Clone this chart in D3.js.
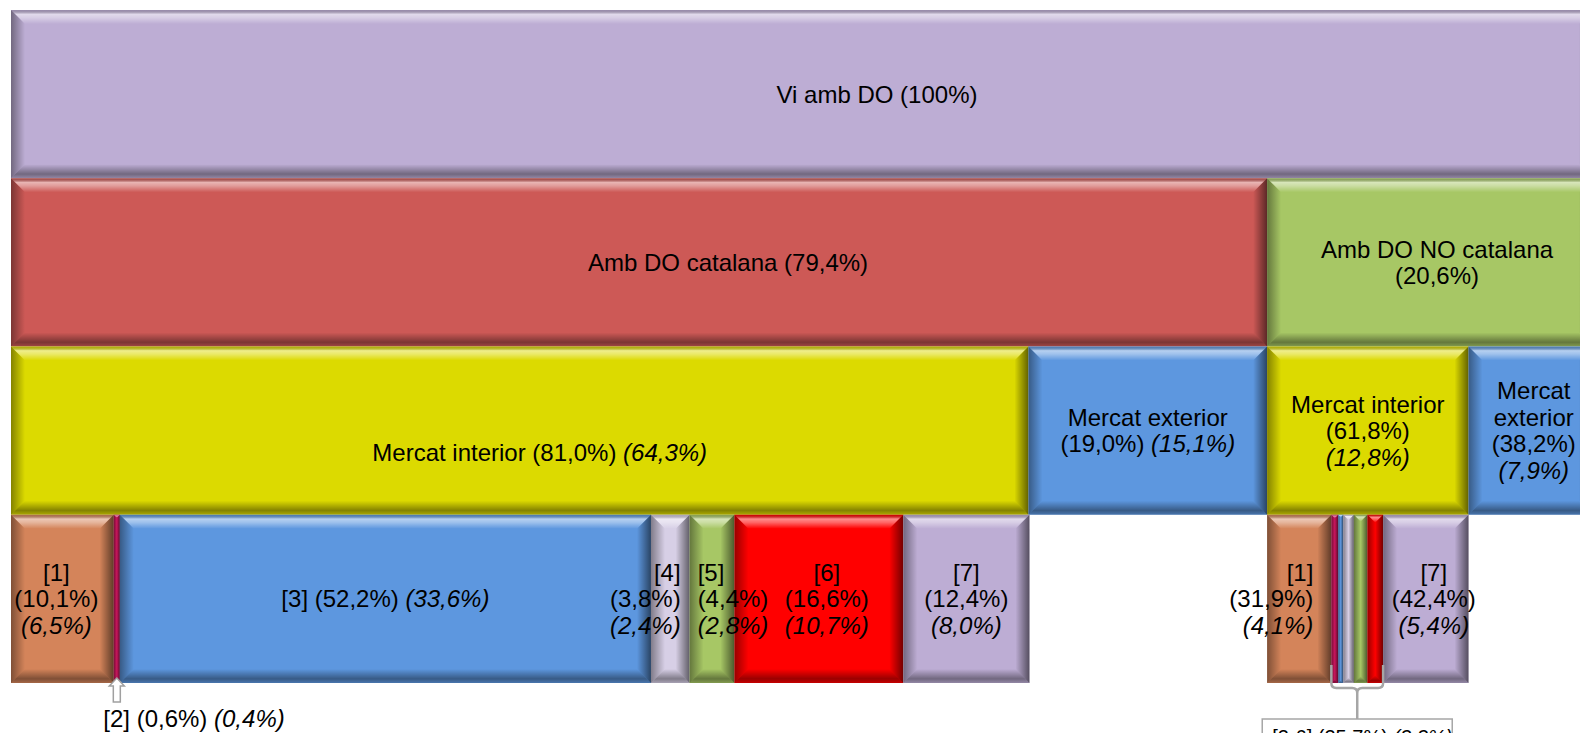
<!DOCTYPE html>
<html>
<head>
<meta charset="utf-8">
<script src="https://cdn.jsdelivr.net/npm/d3@7"></script>
<style>
  html, body { margin: 0; padding: 0; background: #fff; overflow: hidden; }
  svg { display: block; }
  text { font-family: "Liberation Sans", Arial, Helvetica, sans-serif; fill: #000; white-space: pre; }
</style>
</head>
<body>
<svg id="chart" width="1580" height="733"></svg>
<script>
// ---- Data: share of parent (%) and share of total (%, italic) ----
const rootName = "Vi amb DO";
const originNames = ["Amb DO catalana", "Amb DO NO catalana"];
const originShare = [79.4, 20.6];
const marketNames = ["Mercat interior", "Mercat exterior"];
const marketShareCat = [81.0, 19.0];
const marketAbsCat = [64.3, 15.1];
const marketShareNoCat = [61.8, 38.2];
const marketAbsNoCat = [12.8, 7.9];
const channelNames = ["[1]", "[2]", "[3]", "[4]", "[5]", "[6]", "[7]"];
const channelShareCat = [10.1, 0.6, 52.2, 3.8, 4.4, 16.6, 12.4];
const channelAbsCat = [6.5, 0.4, 33.6, 2.4, 2.8, 10.7, 8.0];
// [2]..[6] for the non-Catalan interior market are only labelled as a group
const channelShareNoCat = [31.9, 3.4, 2.5, 5.3, 6.7, 7.8, 42.4];
const channelAbsNoCat = [4.1, null, null, null, null, null, 5.4];
const groupNoCatName = "[2-6]";
const groupNoCatShare = 25.7;
const groupNoCatAbs = 3.3;

// ---- Palette ----
const rootColor = "#BDADD4";
const originColors = ["#CD5956", "#A7C765"];
const marketColors = ["#DCDA00", "#5D97DF"];
const channelColors = ["#D4845A", "#C8165C", "#5D97DF", "#D7CFE6", "#A7C765", "#FF0000", "#BDADD4"];

// ---- Build hierarchy ----
const originKeys = ["cat", "nocat"];
const marketKeys = ["int", "ext"];
const tree = {
  id: "root", name: rootName, share: 100, abs: null, color: rootColor,
  children: originNames.map((name, i) => {
    const ok = originKeys[i];
    const mShare = i === 0 ? marketShareCat : marketShareNoCat;
    const mAbs = i === 0 ? marketAbsCat : marketAbsNoCat;
    const cShare = i === 0 ? channelShareCat : channelShareNoCat;
    const cAbs = i === 0 ? channelAbsCat : channelAbsNoCat;
    return {
      id: ok, name, share: originShare[i], abs: null, color: originColors[i],
      children: marketNames.map((mn, j) => ({
        id: `${ok}-${marketKeys[j]}`, name: mn, share: mShare[j], abs: mAbs[j], color: marketColors[j],
        children: j === 0 ? channelNames.map((cn, k) => ({
          id: `${ok}-${k + 1}`, name: cn, share: cShare[k], abs: cAbs[k], color: channelColors[k]
        })) : undefined
      }))
    };
  })
};

const root = d3.hierarchy(tree);
// Each child takes its share of the parent's extent, placed left to right
root.p0 = 0; root.p1 = 100;
root.eachBefore(node => {
  if (!node.children) return;
  let acc = node.p0;
  const span = node.p1 - node.p0;
  node.children.forEach(c => {
    c.p0 = acc;
    c.p1 = acc + span * c.data.share / 100;
    acc = c.p1;
  });
});

// ---- Scales ----
const x = d3.scaleLinear().domain([0, 100]).range([11, 1593]);
const y = d3.scaleBand().domain([0, 1, 2, 3]).range([10, 683]).padding(0);

const svg = d3.select("#chart");

// ---- Bevel gradients (overlays shared by all boxes) ----
const defs = svg.append("defs");
function grad(id, vertical, stops) {
  const g = defs.append("linearGradient").attr("id", id)
    .attr("x1", 0).attr("y1", 0).attr("x2", vertical ? 0 : 1).attr("y2", vertical ? 1 : 0);
  stops.forEach(([o, c, a]) => g.append("stop").attr("offset", o).attr("stop-color", c).attr("stop-opacity", a));
}
grad("bvTop", true, [[0, "#000", 0.18], [0.3, "#fff", 0.55], [0.55, "#fff", 0.4], [1, "#fff", 0]]);
grad("bvBottom", true, [[0, "#000", 0], [0.7, "#000", 0.4], [1, "#000", 0.22]]);
grad("bvLeft", false, [[0, "#000", 0.4], [1, "#000", 0]]);
grad("bvRight", false, [[0, "#000", 0], [1, "#000", 0.55]]);

function bevelBox(g, x0, y0, x1, y1, fill) {
  const w = x1 - x0, h = y1 - y0;
  const b = Math.min(14, w / 2, h / 2);
  g.append("rect").attr("x", x0).attr("y", y0).attr("width", w).attr("height", h).attr("fill", fill);
  const polys = [
    ["bvTop", [[x0, y0], [x1, y0], [x1 - b, y0 + b], [x0 + b, y0 + b]]],
    ["bvBottom", [[x0, y1], [x0 + b, y1 - b], [x1 - b, y1 - b], [x1, y1]]],
    ["bvLeft", [[x0, y0], [x0 + b, y0 + b], [x0 + b, y1 - b], [x0, y1]]],
    ["bvRight", [[x1, y0], [x1, y1], [x1 - b, y1 - b], [x1 - b, y0 + b]]]
  ];
  polys.forEach(([id, pts]) => {
    g.append("polygon").attr("points", pts.map(p => p.join(",")).join(" ")).attr("fill", `url(#${id})`);
  });
}

// ---- Boxes ----
const nodes = root.descendants();
const boxLayer = svg.append("g");
nodes.forEach(d => {
  const g = boxLayer.append("g").attr("class", "node");
  bevelBox(g, x(d.p0), y(d.depth), x(d.p1), y(d.depth) + y.bandwidth(), d.data.color);
});

// ---- Labels ----
const FS = 24, LH = 26.5, PAD = 16;
const locale = d3.formatLocale({ decimal: ",", thousands: ".", grouping: [3], currency: ["", ""] });
const f1 = locale.format(".1f"), f0 = locale.format(".0f");
const pct = v => "(" + (v === 100 ? f0(v) : f1(v)) + "%)";

const measurer = svg.append("text").attr("font-size", FS).attr("visibility", "hidden");
function tw(s, italic, size) {
  measurer.attr("font-size", size || FS).attr("font-style", italic ? "italic" : "normal").text(s);
  return measurer.node().getComputedTextLength();
}
const spaceW = tw("a a", false) - tw("aa", false);

function wrap(tokens, maxW) {
  const lines = [];
  let cur = [], curW = 0;
  tokens.forEach(t => {
    const w = tw(t.s, t.it);
    if (cur.length && curW + spaceW + w > maxW) { lines.push(cur); cur = [t]; curW = w; }
    else { curW += (cur.length ? spaceW : 0) + w; cur.push(t); }
  });
  if (cur.length) lines.push(cur);
  return lines;
}
const lineWidth = toks => d3.sum(toks, t => tw(t.s, t.it)) + spaceW * (toks.length - 1);

// per-label alignment tweaks
const labelNudge = {
  "root": { dx: 75 }, "cat": { dx: 89 }, "nocat": { dx: 7 },
  "cat-int": { dx: 20, dy: 22 },
  "cat-1": { dx: -6 }, "cat-4": { anchor: "end", dx: -9 }, "cat-5": { anchor: "start", dx: 8 }, "cat-6": { dx: 8 },
  "nocat-1": { anchor: "end", dx: -18 }, "nocat-7": { dx: 8 }, "nocat-ext": { dx: 3 }
};

function drawLines(layer, lines, lx, firstBaseline, anchor, size) {
  lines.forEach((toks, i) => {
    const t = layer.append("text").attr("x", lx).attr("y", firstBaseline + i * LH)
      .attr("text-anchor", anchor).attr("font-size", size || FS);
    toks.forEach((tok, j) => {
      t.append("tspan").attr("font-style", tok.it ? "italic" : "normal").text((j ? " " : "") + tok.s);
    });
  });
}

const labelLayer = svg.append("g");
nodes.forEach(d => {
  const x0 = x(d.p0), x1 = x(d.p1), w = x1 - x0;
  if (w < 20) return; // too narrow: handled by callouts
  const nameToks = d.data.name.split(" ").map(s => ({ s, it: false }));
  const valToks = [{ s: pct(d.data.share), it: false }];
  if (d.data.abs != null) valToks.push({ s: pct(d.data.abs), it: true });
  const maxW = w - 2 * PAD;
  const all = nameToks.concat(valToks);
  let lines;
  if (lineWidth(all) <= maxW) lines = [all];
  else lines = wrap(nameToks, maxW).concat(wrap(valToks, maxW));

  const nz = labelNudge[d.data.id] || {};
  const anchor = nz.anchor || "middle";
  const base = anchor === "end" ? x1 : anchor === "start" ? x0 : (x0 + x1) / 2;
  const lx = base + (nz.dx || 0);
  const cy = y(d.depth) + y.bandwidth() / 2 + (nz.dy || 0);
  const first = cy - (lines.length - 1) / 2 * LH + FS * 0.35;
  drawLines(labelLayer, lines, lx, first, anchor);
});

// ---- Callout: Catalan [2] (arrow) ----
const byId = new Map(nodes.map(d => [d.data.id, d]));
const c2 = byId.get("cat-2");
const rowBottom = y(3) + y.bandwidth();
{
  const cx = (x(c2.p0) + x(c2.p1)) / 2;
  const tip = rowBottom - 5, neck = tip + 8, tail = tip + 24;
  const pts = [[cx, tip], [cx + 7.5, neck], [cx + 3.5, neck], [cx + 3.5, tail], [cx - 3.5, tail], [cx - 3.5, neck], [cx - 7.5, neck]];
  svg.append("polygon").attr("points", pts.map(p => p.join(",")).join(" "))
    .attr("fill", "#fff").attr("stroke", "#A0A0A0").attr("stroke-width", 1.5);
  drawLines(svg, [[{ s: c2.data.name, it: false }, { s: pct(c2.data.share), it: false }, { s: pct(c2.data.abs), it: true }]],
    cx - 13.5, 727, "start");
}

// ---- Callout: non-Catalan [2]..[6] (brace) ----
{
  const a = byId.get("nocat-2"), b = byId.get("nocat-6");
  const bx0 = x(a.p0), bx1 = x(b.p1), cx = (bx0 + bx1) / 2;
  const top = rowBottom - 18, yc = rowBottom + 5, r = 5, boxTop = rowBottom + 36;
  const path = `M${bx0},${top} V${yc - r} Q${bx0},${yc} ${bx0 + r},${yc} H${cx - r} Q${cx},${yc} ${cx},${yc + r} V${boxTop}` +
    ` M${bx1},${top} V${yc - r} Q${bx1},${yc} ${bx1 - r},${yc} H${cx + r} Q${cx},${yc} ${cx},${yc + r}`;
  svg.append("path").attr("d", path).attr("fill", "none").attr("stroke", "#A6A6A6").attr("stroke-width", 2.5);
  svg.append("rect").attr("x", cx - 95).attr("y", boxTop).attr("width", 190).attr("height", 40)
    .attr("fill", "#fff").attr("stroke", "#A6A6A6").attr("stroke-width", 1.5);
  drawLines(svg, [[{ s: groupNoCatName, it: false }, { s: pct(groupNoCatShare), it: false }, { s: pct(groupNoCatAbs), it: true }]],
    cx - 85, boxTop + 25, "start", 20);
}
measurer.remove();
</script>
</body>
</html>
